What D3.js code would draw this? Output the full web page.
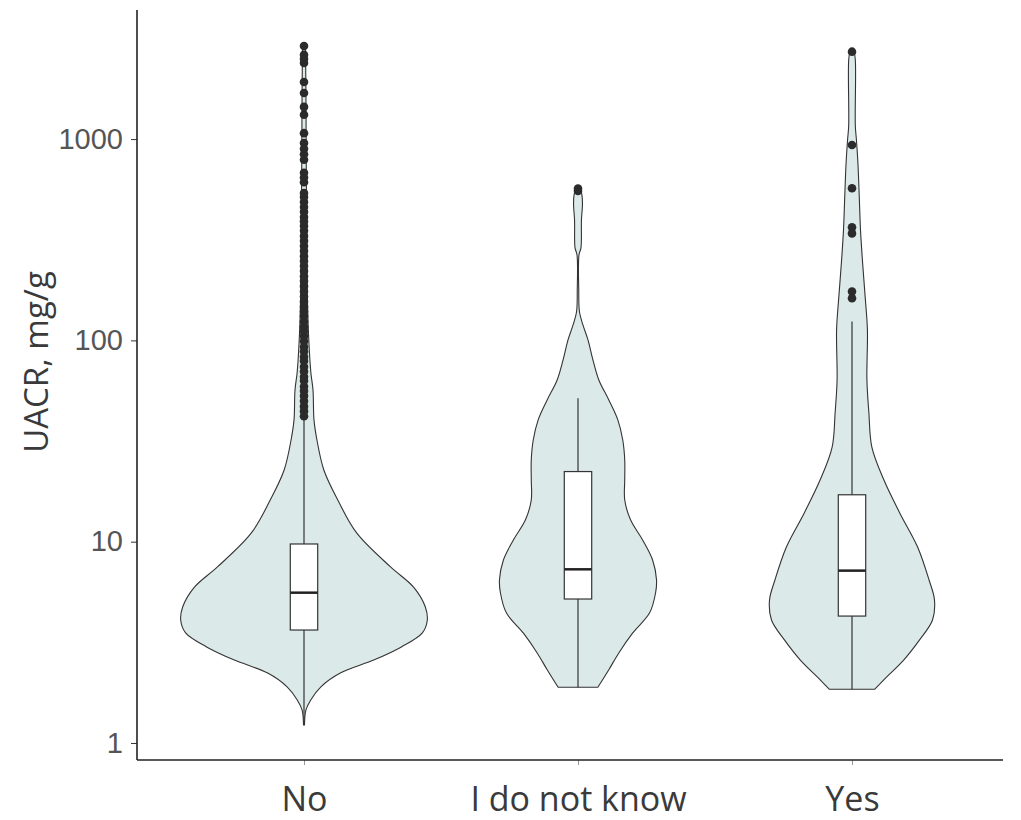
<!DOCTYPE html>
<html>
<head>
<meta charset="utf-8">
<script src="https://cdn.jsdelivr.net/npm/d3@7"></script>
<style>
    body { margin: 0; background: #fff; }
</style>
</head>
<body>
<div class="chartContainer"></div>
<script>
var groups = ["No", "I do not know", "Yes"]
var yTicks = [1, 10, 100, 1000]

// violin outlines: UACR value and relative density (1 = widest violin)
var noValues = [1.23, 1.46, 1.64, 1.90, 2.23, 2.58, 3.00, 3.52, 4.08, 4.74, 5.96, 7.49, 11.05, 16.1, 22.7, 32.0, 40.3, 56.7, 68.9, 97.1, 159, 498, 1564, 2934]
var noDensity = [0.004, 0.016, 0.056, 0.137, 0.298, 0.565, 0.79, 0.96, 1.0, 0.984, 0.887, 0.702, 0.427, 0.274, 0.161, 0.105, 0.081, 0.073, 0.056, 0.04, 0.028, 0.02, 0.016, 0.012]

var idkValues = [1.89, 2.31, 2.80, 3.52, 4.43, 5.56, 6.45, 8.11, 10.2, 12.8, 16.1, 20.3, 25.5, 32.0, 40.3, 50.6, 63.6, 80, 100.5, 119.3, 138.4, 178, 266, 288, 397, 471, 528, 572]
var idkDensity = [0.161, 0.25, 0.331, 0.444, 0.581, 0.629, 0.637, 0.605, 0.524, 0.427, 0.379, 0.379, 0.379, 0.363, 0.323, 0.25, 0.169, 0.121, 0.081, 0.04, 0.012, 0.006, 0.008, 0.024, 0.028, 0.036, 0.032, 0.016]

var yesValues = [1.85, 2.06, 2.58, 3.25, 4.08, 5.13, 6.45, 9.41, 13.9, 20.3, 29.5, 43.6, 63.6, 113, 164, 243, 353, 516, 761, 990, 1162, 2472, 2754]
var yesDensity = [0.185, 0.258, 0.419, 0.548, 0.653, 0.669, 0.625, 0.532, 0.387, 0.258, 0.161, 0.137, 0.121, 0.125, 0.107, 0.086, 0.069, 0.059, 0.048, 0.036, 0.027, 0.027, 0.016]

// boxplot statistics per group
var whiskerLow = [1.23, 1.89, 1.85]
var boxQ1 = [3.64, 5.19, 4.27]
var boxMedian = [5.58, 7.29, 7.18]
var boxQ3 = [9.74, 22.3, 17.1]
var whiskerHigh = [41, 51.6, 124]

// outliers
var noOutliers = [42, 44.5, 47, 50, 53, 56, 59, 63, 66, 70, 74, 79, 83, 88, 93, 99, 105, 111, 117, 124, 132, 139, 147, 156, 165, 175, 186, 197, 208, 221, 234, 248, 262, 278, 294, 312, 330, 350, 370,
    390, 410, 435, 460, 487, 515, 540, 610, 645, 680, 790, 840, 895, 955, 1070, 1320, 1445, 1695, 1920, 2390, 2500, 2620, 2900]
var idkOutliers = [552, 568]
var yesOutliers = [2718, 935, 570, 365, 340, 175, 162]

var violins = [
    { group: groups[0], values: noValues, density: noDensity, outliers: noOutliers },
    { group: groups[1], values: idkValues, density: idkDensity, outliers: idkOutliers },
    { group: groups[2], values: yesValues, density: yesDensity, outliers: yesOutliers }
]
violins.forEach(function (v, i) {
    v.lo = whiskerLow[i]; v.q1 = boxQ1[i]; v.med = boxMedian[i]; v.q3 = boxQ3[i]; v.hi = whiskerHigh[i]
    v.profile = v.values.map(function (val, j) { return { v: val, d: v.density[j] } })
})

var width = 1021, height = 820
var plotLeft = 137, plotRight = 1003, plotTop = 10, plotBottom = 760

var svg = d3.select(".chartContainer")
    .append("svg")
    .attr("width", width)
    .attr("height", height)

var y = d3.scaleLog()
    .domain([0.823, 4378])
    .range([plotBottom, plotTop])

var x = d3.scalePoint()
    .domain(groups)
    .range([304, 852])

var half = d3.scaleLinear()
    .domain([0, 1])
    .range([0, x.step() * 0.45])

var boxHalf = x.step() * 0.05

var area = d3.area()
    .curve(d3.curveCatmullRom)
    .y(function (d) { return y(d.v) })

var g = svg.selectAll("g.violin")
    .data(violins)
    .enter()
    .append("g")
    .classed("violin", true)

// violins
g.append("path")
    .attr("d", function (v) {
        var cx = x(v.group)
        return area
            .x0(function (d) { return cx - half(d.d) })
            .x1(function (d) { return cx + half(d.d) })(v.profile)
    })
    .attr("fill", "#dce9e9")
    .attr("stroke", "#333")
    .attr("stroke-width", 1.1)

// whiskers
g.append("line")
    .attr("x1", function (v) { return x(v.group) })
    .attr("x2", function (v) { return x(v.group) })
    .attr("y1", function (v) { return y(v.lo) })
    .attr("y2", function (v) { return y(v.hi) })
    .attr("stroke", "#333")
    .attr("stroke-width", 1.2)

// boxes
g.append("rect")
    .attr("x", function (v) { return x(v.group) - boxHalf })
    .attr("width", boxHalf * 2)
    .attr("y", function (v) { return y(v.q3) })
    .attr("height", function (v) { return y(v.q1) - y(v.q3) })
    .attr("fill", "#fff")
    .attr("stroke", "#333")
    .attr("stroke-width", 1.2)

g.append("line")
    .attr("x1", function (v) { return x(v.group) - boxHalf })
    .attr("x2", function (v) { return x(v.group) + boxHalf })
    .attr("y1", function (v) { return y(v.med) })
    .attr("y2", function (v) { return y(v.med) })
    .attr("stroke", "#222")
    .attr("stroke-width", 2.5)

// outlier points
g.selectAll("circle.outlier")
    .data(function (v) { return v.outliers.map(function (o) { return { group: v.group, v: o } }) })
    .enter()
    .append("circle")
    .classed("outlier", true)
    .attr("cx", function (d) { return x(d.group) })
    .attr("cy", function (d) { return y(d.v) })
    .attr("r", 4.3)
    .attr("fill", "#2b2b2b")

// axes
var yAxis = svg.append("g")
    .attr("transform", "translate(" + plotLeft + ",0)")
    .call(d3.axisLeft(y).tickValues(yTicks).tickFormat(d3.format("d")).tickSize(6).tickPadding(8))
yAxis.select(".domain").remove()
yAxis.selectAll(".tick line").attr("stroke", "#333")
yAxis.selectAll("text")
    .attr("font-family", "'Liberation Sans', Arial, sans-serif")
    .attr("font-size", 29)
    .attr("fill", "#555")

var xAxis = svg.append("g")
    .attr("transform", "translate(0," + plotBottom + ")")
    .call(d3.axisBottom(x).tickSize(5).tickPadding(22))
xAxis.select(".domain").remove()
xAxis.selectAll(".tick line").attr("stroke", "#999")
xAxis.selectAll("text")
    .attr("font-family", "'Open Sans', sans-serif")
    .attr("font-size", 34)
    .attr("fill", "#3a3a3a")

svg.append("line")
    .attr("x1", plotLeft).attr("x2", plotLeft)
    .attr("y1", plotTop).attr("y2", plotBottom)
    .attr("stroke", "#222")
    .attr("stroke-width", 1.6)

svg.append("line")
    .attr("x1", plotLeft).attr("x2", plotRight)
    .attr("y1", plotBottom).attr("y2", plotBottom)
    .attr("stroke", "#222")
    .attr("stroke-width", 1.6)

svg.append("text")
    .attr("transform", "translate(48," + ((plotTop + plotBottom) / 2 - 23) + ") rotate(-90)")
    .attr("text-anchor", "middle")
    .attr("font-family", "'Open Sans', sans-serif")
    .attr("font-size", 33)
    .attr("fill", "#3a3a3a")
    .text("UACR, mg/g")
</script>
</body>
</html>
